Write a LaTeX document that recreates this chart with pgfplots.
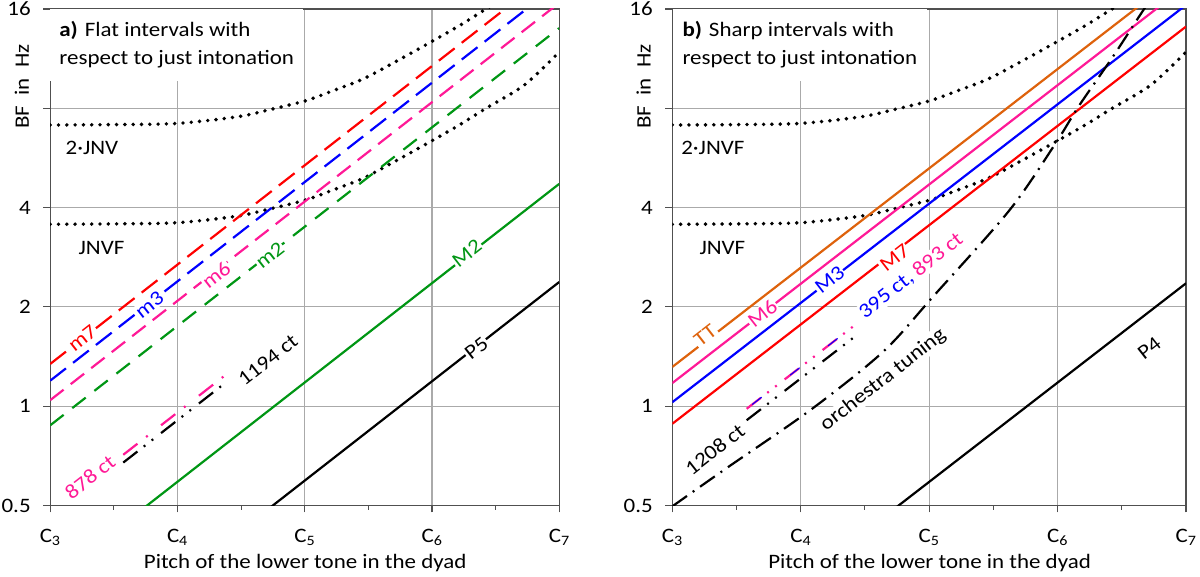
\documentclass[border=0pt]{standalone}
\usepackage{fontspec}
\setmainfont{Carlito}[FakeStretch=1.12]
\usepackage{pgfplots}
\usepackage{pgfplotstable}
\pgfplotsset{compat=1.18}
\definecolor{cred}{RGB}{255,0,0}
\definecolor{cblue}{RGB}{0,0,255}
\definecolor{cmag}{RGB}{255,25,150}
\definecolor{cgreen}{RGB}{0,150,20}
\definecolor{corange}{RGB}{222,98,12}
\definecolor{cgrid}{RGB}{170,170,170}
\definecolor{caxis}{RGB}{80,80,80}

\pgfplotstableread{
x y
3.00 3.56
3.50 3.57
4.00 3.60
4.47 3.77
4.71 3.95
5.01 4.22
5.22 4.52
5.46 4.91
5.73 5.58
6.00 6.38
6.215 7.12
6.425 8.00
6.726 9.41
7.00 11.85
}\jnvf
\pgfplotstableread{
x y
3.00 7.12
3.50 7.14
4.00 7.20
4.47 7.54
4.71 7.90
5.01 8.44
5.22 9.04
5.46 9.82
5.73 11.16
6.00 12.76
6.215 14.24
6.425 16.00
6.726 18.82
}\jnvftwo
\pgfplotstableread{
x y
3.00 0.497
3.42 0.648
4.076 0.974
4.642 1.463
5.03 2.148
5.626 3.93
5.984 6.26
6.162 8.09
6.431 11.47
6.669 15.9
6.75 17.5
}\orch

\tikzset{
 mydots/.style={black, line width=3.9pt, line cap=round, dash pattern=on 0pt off 8.3pt},
 myline/.style={line width=2.2pt},
 mylbl/.style={fill=white, inner sep=1pt, rotate=38},
}

\begin{document}
\begin{tikzpicture}[font=\fontsize{20.5}{27.7}\selectfont]
\useasboundingbox (0,0) rectangle (1200pt,577pt);
% ---------------- panel a
\begin{axis}[scale only axis, height=496.5pt, width=509pt, anchor=south west, at={(50.2pt,71.5pt)},
   xmin=3, xmax=7, ymin=0.5, ymax=16, ymode=log, log basis y=2,
   xtick={3,4,5,6,7},
   xticklabels={C\textsubscript{3},C\textsubscript{4},C\textsubscript{5},C\textsubscript{6},C\textsubscript{7}},
   minor xtick={3.5,4.5,5.5,6.5},
   ytick={0.5,1,2,4,8,16}, yticklabels={0.5,1,2,4,,16},
   xtick pos=bottom, ytick pos=left,
   grid=major, grid style={cgrid, line width=1.1pt},
   tick align=outside, major tick length=7pt, minor tick length=4.5pt,
   tick style={caxis, line width=1.1pt},
   axis line style={caxis, line width=1.1pt},
   xticklabel style={yshift=-13pt},
   yticklabel style={xshift=-9pt},
   xlabel={Pitch of the lower tone in the dyad},
   xlabel style={at={(axis description cs:0.501,-0.1158)}, anchor=center},
   ylabel={BF~~in~~Hz},
   ylabel style={at={(axis description cs:-0.0558,0.8435)}, anchor=center, rotate=0},
 ]
\addplot[mydots, smooth] table {\jnvf};
\addplot[mydots, smooth] table {\jnvftwo};
\addplot[myline, cred, dash pattern=on 20pt off 9pt] coordinates {(3,1.343) (7,21.49)};
\addplot[myline, cblue, dash pattern=on 20pt off 9pt] coordinates {(3,1.195) (7,19.12)};
\addplot[myline, cmag, dash pattern=on 17pt off 9pt] coordinates {(3,1.043) (7,16.69)};
\addplot[myline, cgreen, dash pattern=on 17pt off 11pt] coordinates {(3,0.875) (7,14.0)};
\addplot[myline, cgreen] coordinates {(3,0.295) (7,4.72)};
\addplot[myline, black] coordinates {(3,0.1487) (7,2.379)};
\addplot[myline, black, dash pattern=on 18pt off 8pt on 2pt off 8pt on 2pt off 10pt] coordinates {(3.574,0.6746) (4.36,1.1634)};
\addplot[myline, cmag, dash pattern=on 18pt off 11pt on 2pt off 17pt] coordinates {(3.574,0.7123) (4.412,1.2733)};
\node[mylbl, text=cred] at (axis cs:3.253,1.607) {m7};
\node[mylbl, text=cblue] at (axis cs:3.779,2.03) {m3};
\node[mylbl, text=cmag] at (axis cs:4.305,2.5) {m6};
\node[mylbl, text=cgreen] at (axis cs:4.726,2.87) {m2};
\node[mylbl, text=cgreen] at (axis cs:6.275,2.91) {M2};
\node[mylbl, text=black] at (axis cs:6.35,1.50) {P5};
\node[mylbl, text=black] at (axis cs:4.711,1.38) {1194 ct};
\node[mylbl, text=cmag] at (axis cs:3.313,0.61) {878 ct};
\node at (axis cs:3.328,6.05) {2·JNV};
\node at (axis cs:3.403,3.01) {JNVF};
\node[anchor=north west, fill=white, align=left, inner xsep=9pt, inner ysep=12.5pt] at (rel axis cs:0,1) {\textbf{a)}\hspace{7pt}Flat intervals with\\respect to just intonation};
\end{axis}
% ---------------- panel b
\begin{axis}[scale only axis, height=496.5pt, width=513.7pt, anchor=south west, at={(672.3pt,71.5pt)},
   xmin=3, xmax=7, ymin=0.5, ymax=16, ymode=log, log basis y=2,
   xtick={3,4,5,6,7},
   xticklabels={C\textsubscript{3},C\textsubscript{4},C\textsubscript{5},C\textsubscript{6},C\textsubscript{7}},
   minor xtick={3.5,4.5,5.5,6.5},
   ytick={0.5,1,2,4,8,16}, yticklabels={0.5,1,2,4,,16},
   xtick pos=bottom, ytick pos=left,
   grid=major, grid style={cgrid, line width=1.1pt},
   tick align=outside, major tick length=7pt, minor tick length=4.5pt,
   tick style={caxis, line width=1.1pt},
   axis line style={caxis, line width=1.1pt},
   xticklabel style={yshift=-13pt},
   yticklabel style={xshift=-9pt},
   xlabel={Pitch of the lower tone in the dyad},
   xlabel style={at={(axis description cs:0.501,-0.1158)}, anchor=center},
   ylabel={BF~~in~~Hz},
   ylabel style={at={(axis description cs:-0.0558,0.8435)}, anchor=center, rotate=0},
 ]
\addplot[mydots, smooth] table {\jnvf};
\addplot[mydots, smooth] table {\jnvftwo};
\addplot[myline, corange] coordinates {(3,1.315) (7,21.04)};
\addplot[myline, cmag] coordinates {(3,1.175) (7,18.8)};
\addplot[myline, cblue] coordinates {(3,1.028) (7,16.45)};
\addplot[myline, cred] coordinates {(3,0.8845) (7,14.15)};
\addplot[myline, black] coordinates {(3,0.1474) (7,2.358)};
\addplot[myline, black, smooth, dash pattern=on 18pt off 7pt on 2pt off 7pt] table {\orch};
\addplot[myline, black, dash pattern=on 18pt off 8pt on 2pt off 8pt on 2pt off 10pt] coordinates {(3.579,0.9067) (4.42,1.6243)};
\addplot[myline, cmag, dash pattern=on 18pt off 8pt on 2pt off 8pt on 2pt off 10pt] coordinates {(3.579,0.9822) (4.415,1.7533)};
\addplot[line width=1pt, cblue, dash pattern=on 0pt off 7pt on 12pt off 29pt] coordinates {(3.579,0.9822) (4.415,1.7533)};
\node[mylbl, text=corange] at (axis cs:3.256,1.64) {TT};
\node[mylbl, text=cmag] at (axis cs:3.703,1.91) {M6};
\node[mylbl, text=cblue] at (axis cs:4.225,2.41) {M3};
\node[mylbl, text=cred] at (axis cs:4.732,2.81) {M7};
\node[mylbl] at (axis cs:4.86,2.48) {\textcolor{cblue}{395 ct,} \textcolor{cmag}{893 ct}};
\node[mylbl, text=black] at (axis cs:4.642,1.2) {orchestra tuning};
\node[mylbl, text=black] at (axis cs:3.331,0.74) {1208 ct};
\node[mylbl, text=black] at (axis cs:6.714,1.5) {P4};
\node at (axis cs:3.316,6.05) {2·JNVF};
\node at (axis cs:3.39,3.01) {JNVF};
\node[anchor=north west, fill=white, align=left, inner xsep=10pt, inner ysep=12.5pt] at (rel axis cs:0,1) {\textbf{b)}\hspace{7pt}Sharp intervals with\\respect to just intonation};
\end{axis}
\end{tikzpicture}
\end{document}
